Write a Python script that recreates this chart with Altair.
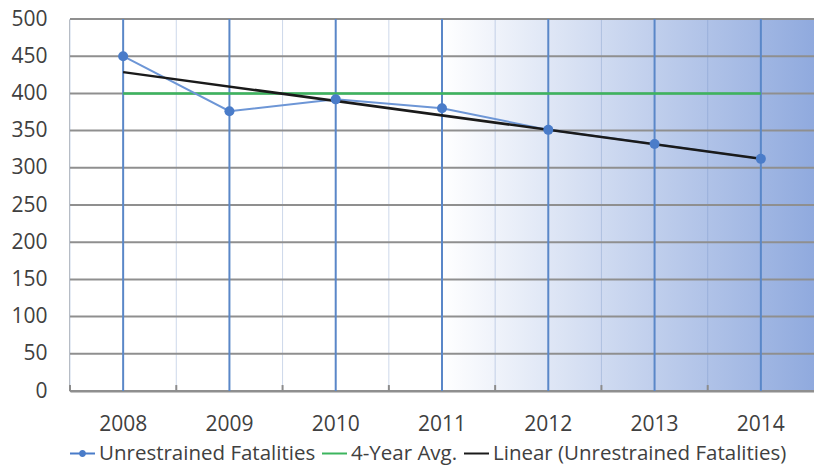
import altair as alt
import pandas as pd

years = ["2008", "2009", "2010", "2011", "2012", "2013", "2014"]
year_nums = [2008, 2009, 2010, 2011, 2012, 2013, 2014]
fatalities = [450, 376, 392, 380, 351, 332, 312]
avg_values = [400, 400, 400, 400, 400, 400, 400]
series = ["Unrestrained Fatalities", "4-Year Avg.", "Linear (Unrestrained Fatalities)"]
colors = ["#4a7cc9", "#3cb55e", "#1a1a1a"]
line_blue = "#6d96d6"
y_ticks = [0, 50, 100, 150, 200, 250, 300, 350, 400, 450, 500]

FONT = "Open Sans"
TXT = "#404040"

df_fat = pd.DataFrame({"year": years, "year_num": year_nums, "value": fatalities})
df_avg = pd.DataFrame({"year": years, "value": avg_values})
df_legend = pd.DataFrame({"series": series, "year": years[:3], "value": [0, 0, 0]})
df_years = pd.DataFrame({"year": years})
df_ygrid = pd.DataFrame({"value": y_ticks})

xscale = alt.Scale(type="band", domain=years, paddingInner=0, paddingOuter=0)
yscale = alt.Scale(domain=[0, 500])

legend_line_dot = ("M-1,-0.08H1V0.08H-1Z "
                   "M0.28,0A0.28,0.28 0 1,1 -0.28,0A0.28,0.28 0 1,1 0.28,0Z")
legend_line = "M-1,-0.08H1V0.08H-1Z"

x_axis = alt.Axis(labelAngle=0, labelFont=FONT, labelFontSize=21, bandPosition=0.5,
                  labelColor=TXT, labelPadding=22, ticks=False,
                  tickSize=0, grid=False, domainColor="#8c8c8c", domainWidth=2)
y_axis = alt.Axis(values=y_ticks, labelFont=FONT, labelFontSize=21,
                  labelColor=TXT, labelPadding=23, ticks=False,
                  tickSize=0, grid=False, domainColor="#8c8c8c", domainWidth=2)


def X(**kw):
    return alt.X("year:O", scale=xscale, title=None, axis=x_axis, **kw)


def Y():
    return alt.Y("value:Q", scale=yscale, title=None, axis=y_axis)


gradient = alt.LinearGradient(
    gradient="linear",
    stops=[alt.GradientStop(offset=0, color="#ffffff"),
           alt.GradientStop(offset=0.5, color="#ffffff"),
           alt.GradientStop(offset=1, color="#90aade")],
    x1=0, x2=1, y1=0, y2=0)

background = alt.Chart(df_years).mark_rect(fill=gradient).encode(
    x=alt.value(0), x2=alt.value("width"), y=alt.value(0), y2=alt.value("height"))

minor = alt.Chart(df_years).mark_rule(color="#6f8fc4", strokeWidth=1, opacity=0.35).encode(
    x=X(bandPosition=0),
    y=alt.datum(0, scale=yscale, axis=y_axis), y2=alt.datum(500))

ygrid = alt.Chart(df_ygrid).mark_rule(color="#8f8f8f", strokeWidth=2).encode(
    x=alt.value(0), x2=alt.value("width"), y=Y())

xgrid = alt.Chart(df_years).mark_rule(color="#5a87c8", strokeWidth=2).encode(
    x=X(), y=alt.datum(0, scale=yscale, axis=y_axis), y2=alt.datum(500))

minor_ticks = alt.Chart(df_years).mark_rule(color="#8c8c8c", strokeWidth=2).encode(
    x=X(bandPosition=0),
    y=alt.datum(0, scale=yscale, axis=y_axis), y2=alt.datum(8))

fat_line = alt.Chart(df_fat).mark_line(strokeWidth=2, color=line_blue).encode(
    x=X(), y=Y())

avg_line = alt.Chart(df_avg).mark_line(strokeWidth=2.5, color=colors[1]).encode(
    x=X(), y=Y())

trend = alt.Chart(df_fat).transform_regression(
    "year_num", "value", method="linear"
).transform_calculate(
    year="toString(datum.year_num)"
).mark_line(strokeWidth=2.5, color=colors[2]).encode(x=X(), y=Y())

points = alt.Chart(df_fat).mark_point(filled=True, size=100, opacity=1,
                                      color=colors[0]).encode(x=X(), y=Y())

leg = alt.Legend(title=None, orient="bottom", direction="horizontal",
                 labelFont=FONT, labelFontSize=20.5, labelColor=TXT, labelLimit=500,
                 symbolSize=625, labelOffset=4, columnPadding=6,
                 offset=7, symbolStrokeWidth=0)

legend_layer = alt.Chart(df_legend).mark_point(filled=True, size=0, opacity=1).encode(
    x=X(), y=Y(),
    color=alt.Color("series:N", scale=alt.Scale(domain=series, range=colors), legend=leg),
    shape=alt.Shape("series:N",
                    scale=alt.Scale(domain=series,
                                    range=[legend_line_dot, legend_line, legend_line]),
                    legend=leg))

chart = alt.layer(background, minor, ygrid, xgrid, minor_ticks, avg_line, fat_line, trend,
                  points, legend_layer).properties(
    width=744, height=372,
    autosize=alt.AutoSizeParams(type="none"),
    padding={"left": 70, "top": 19, "right": 0, "bottom": 75},
    background="white",
).configure_view(stroke=None)

chart.save("out.html", embed_options={"renderer": "svg", "actions": False})
